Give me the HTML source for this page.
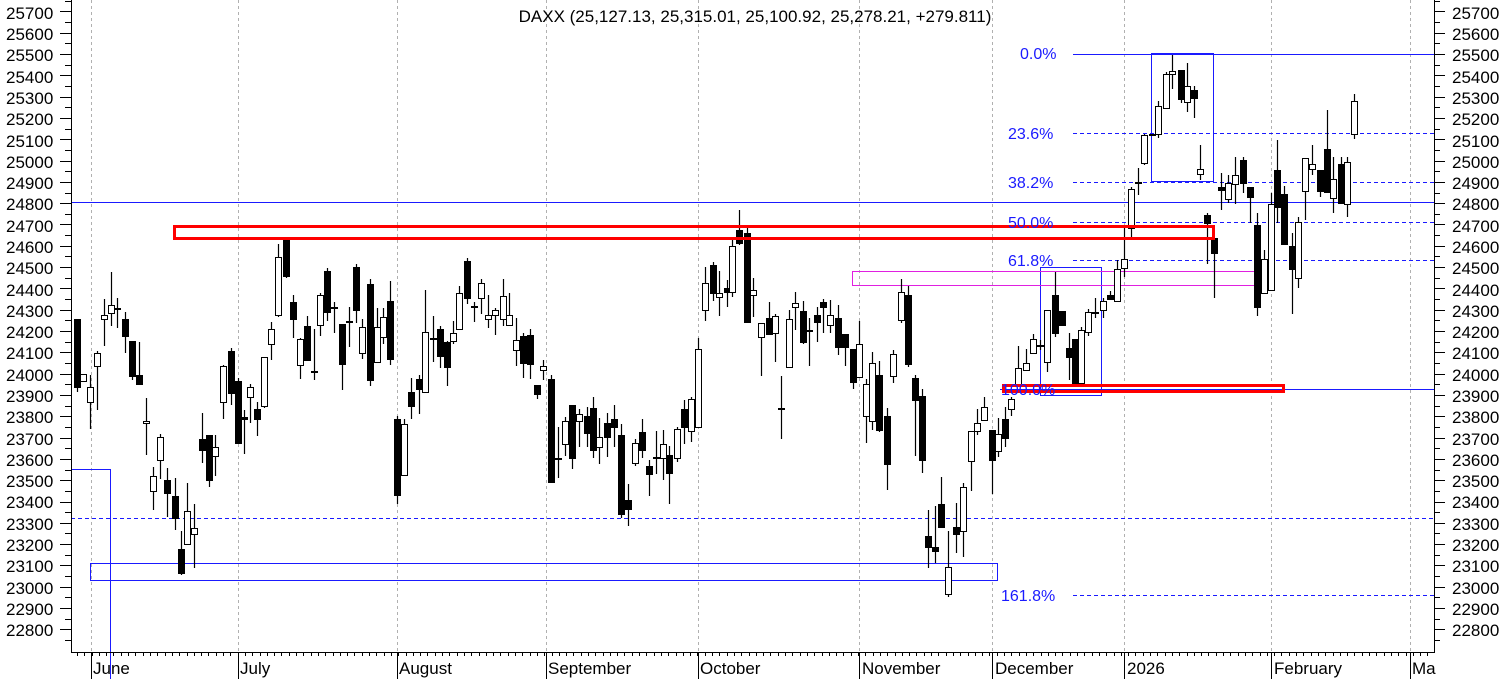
<!DOCTYPE html>
<html><head><meta charset="utf-8"><style>
body{margin:0;background:#fff;}
svg{display:block;font-family:"Liberation Sans",sans-serif;}
.ax{font-size:17px;fill:#000;}
.fb{font-size:16px;fill:#1a1aff;}
</style></head><body>
<svg id="s" width="1506" height="679" viewBox="0 0 1506 679" xmlns="http://www.w3.org/2000/svg">
<rect width="1506" height="679" fill="#fff"/>
<g id="grid" stroke="#b0b0b0" stroke-dasharray="3,3" stroke-width="1">
<line x1="91.5" y1="0" x2="91.5" y2="652"/><line x1="238.5" y1="0" x2="238.5" y2="652"/>
<line x1="397.5" y1="0" x2="397.5" y2="652"/><line x1="546.5" y1="0" x2="546.5" y2="652"/>
<line x1="698.5" y1="0" x2="698.5" y2="652"/><line x1="859.5" y1="0" x2="859.5" y2="652"/>
<line x1="992.5" y1="0" x2="992.5" y2="652"/><line x1="1124.5" y1="0" x2="1124.5" y2="652"/>
<line x1="1271.5" y1="0" x2="1271.5" y2="652"/><line x1="1410.5" y1="0" x2="1410.5" y2="652"/>
</g>
<g stroke="#1a1aff" stroke-width="1" fill="none">
<line x1="71" y1="202.5" x2="1434" y2="202.5"/>
<line x1="1073" y1="54.5" x2="1434" y2="54.5"/>
<line x1="1000" y1="389.5" x2="1434" y2="389.5"/>
<g stroke-dasharray="4,3">
<line x1="1073" y1="133.5" x2="1434" y2="133.5"/>
<line x1="1073" y1="182.5" x2="1434" y2="182.5"/>
<line x1="1073" y1="222.5" x2="1434" y2="222.5"/>
<line x1="1073" y1="260.5" x2="1434" y2="260.5"/>
<line x1="71" y1="518.5" x2="1434" y2="518.5"/>
<line x1="1073" y1="595.5" x2="1434" y2="595.5"/>
</g>
<polyline points="71,469.5 110.5,469.5 110.5,679"/>
<rect x="90.5" y="563.5" width="907" height="17"/>
<rect x="1151.5" y="53.5" width="62" height="128"/>
<rect x="1040.5" y="267.5" width="61" height="128"/>
</g>
<rect x="852.5" y="271.5" width="411" height="14" fill="none" stroke="#e020e0" stroke-width="1"/>
<g id="c"></g>
<rect x="174.5" y="226.5" width="1039" height="12" fill="none" stroke="#f00" stroke-width="3"/>
<rect x="1003.5" y="385.5" width="280" height="6" fill="none" stroke="#f00" stroke-width="3"/>
<g class="fb">
<text x="1020" y="59">0.0%</text><text x="1008" y="139">23.6%</text>
<text x="1008" y="188">38.2%</text><text x="1008" y="228">50.0%</text>
<text x="1008" y="266">61.8%</text><text x="1001" y="395">100.0%</text>
<text x="1001" y="601">161.8%</text>
</g>
<text x="755" y="22" text-anchor="middle" class="ax">DAXX (25,127.13, 25,315.01, 25,100.92, 25,278.21, +279.811)</text>
<g stroke="#000" stroke-width="1">
<line x1="71.5" y1="0" x2="71.5" y2="653"/><line x1="1434.5" y1="0" x2="1434.5" y2="653"/>
<line x1="71" y1="652.5" x2="1435" y2="652.5"/>
</g>
<g id="t" stroke="#000" stroke-width="1"></g>
<g class="ax">
<text x="6" y="19">25700</text><text x="6" y="40">25600</text><text x="6" y="61">25500</text><text x="6" y="83">25400</text><text x="6" y="104">25300</text><text x="6" y="125">25200</text><text x="6" y="147">25100</text><text x="6" y="168">25000</text><text x="6" y="189">24900</text><text x="6" y="210">24800</text><text x="6" y="232">24700</text><text x="6" y="253">24600</text><text x="6" y="274">24500</text><text x="6" y="296">24400</text><text x="6" y="317">24300</text><text x="6" y="338">24200</text><text x="6" y="359">24100</text><text x="6" y="381">24000</text><text x="6" y="402">23900</text><text x="6" y="423">23800</text><text x="6" y="445">23700</text><text x="6" y="466">23600</text><text x="6" y="487">23500</text><text x="6" y="508">23400</text><text x="6" y="530">23300</text><text x="6" y="551">23200</text><text x="6" y="572">23100</text><text x="6" y="594">23000</text><text x="6" y="615">22900</text><text x="6" y="636">22800</text>
<text x="1452" y="19">25700</text><text x="1452" y="40">25600</text><text x="1452" y="61">25500</text><text x="1452" y="83">25400</text><text x="1452" y="104">25300</text><text x="1452" y="125">25200</text><text x="1452" y="147">25100</text><text x="1452" y="168">25000</text><text x="1452" y="189">24900</text><text x="1452" y="210">24800</text><text x="1452" y="232">24700</text><text x="1452" y="253">24600</text><text x="1452" y="274">24500</text><text x="1452" y="296">24400</text><text x="1452" y="317">24300</text><text x="1452" y="338">24200</text><text x="1452" y="359">24100</text><text x="1452" y="381">24000</text><text x="1452" y="402">23900</text><text x="1452" y="423">23800</text><text x="1452" y="445">23700</text><text x="1452" y="466">23600</text><text x="1452" y="487">23500</text><text x="1452" y="508">23400</text><text x="1452" y="530">23300</text><text x="1452" y="551">23200</text><text x="1452" y="572">23100</text><text x="1452" y="594">23000</text><text x="1452" y="615">22900</text><text x="1452" y="636">22800</text>
<text x="93" y="674">June</text><text x="240" y="674">July</text><text x="399" y="674">August</text><text x="548" y="674">September</text><text x="700" y="674">October</text><text x="862" y="674">November</text><text x="995" y="674">December</text><text x="1127" y="674">2026</text><text x="1274" y="674">February</text><text x="1412" y="674">Ma</text>
</g>
</svg>
<script>
var C=[[77,319,319,387,392,1],[83,374,374,381,381,0],[90,375,387,402,429,0],[97,351,353,366,410,0],[104,299,315,319,346,0],[111,272,305,313,326,0],[117,298,308,309,328,0],[125,312,319,336,353,1],[132,341,341,376,380,1],[139,342,375,384,384,1],[146,398,421,423,455,0],[153,467,476,491,510,0],[160,434,437,460,479,0],[167,468,480,493,517,1],[175,478,496,518,530,1],[181,531,549,573,575,1],[187,483,511,544,544,0],[194,504,528,534,568,0],[202,413,439,450,463,1],[209,435,435,480,487,1],[215,435,447,456,476,0],[223,365,366,402,419,0],[231,348,351,393,405,1],[238,378,381,443,443,1],[244,410,417,419,454,1],[250,384,387,397,423,0],[257,402,409,419,436,1],[264,357,357,406,408,0],[271,322,329,344,360,0],[278,244,257,315,317,0],[286,238,239,276,278,1],[293,295,302,319,338,1],[300,338,339,365,379,0],[307,316,326,360,360,1],[314,329,371,371,380,1],[320,293,295,325,336,0],[327,268,271,312,321,1],[334,302,307,307,333,1],[342,324,324,364,390,1],[349,307,321,321,347,1],[356,264,267,310,323,1],[362,319,327,353,359,0],[370,279,284,380,386,1],[377,308,327,362,362,0],[383,308,317,337,344,0],[390,281,301,359,365,1],[397,416,419,495,504,1],[404,419,424,475,475,0],[411,378,392,406,419,1],[419,375,379,389,414,1],[425,290,332,392,393,0],[433,316,338,338,362,1],[440,326,329,356,368,1],[447,341,342,367,386,1],[453,321,333,341,344,0],[459,286,293,329,329,0],[467,258,261,298,304,1],[474,302,306,306,322,1],[481,279,283,298,314,0],[488,295,315,319,328,0],[495,308,310,315,335,0],[503,279,296,319,326,0],[509,293,315,325,325,0],[516,318,340,350,366,0],[523,333,336,363,378,1],[530,329,335,364,379,1],[537,385,385,394,399,1],[543,360,366,370,380,0],[551,375,379,482,482,1],[558,427,458,458,478,1],[565,417,421,444,456,0],[572,405,405,458,469,1],[579,409,414,421,447,0],[587,407,416,433,447,1],[593,397,408,450,458,1],[599,418,437,447,464,0],[607,413,423,437,457,1],[614,405,419,427,447,1],[621,424,435,514,518,1],[628,484,500,509,526,1],[635,439,443,463,466,0],[642,419,432,450,458,1],[649,460,466,474,496,1],[656,431,457,457,474,1],[663,430,444,458,480,0],[669,446,455,473,504,1],[677,427,429,458,462,0],[684,400,409,427,444,1],[691,397,399,431,442,0],[698,338,349,427,427,0],[705,267,283,310,321,0],[713,262,265,293,301,1],[719,271,293,297,316,0],[727,280,288,292,307,1],[732,240,246,292,297,0],[739,210,230,243,245,1],[747,228,233,322,322,1],[753,278,290,295,317,0],[761,323,323,337,376,0],[769,302,318,334,334,1],[775,314,316,333,362,0],[781,376,408,408,439,1],[789,310,319,367,368,0],[795,292,303,307,330,0],[803,301,311,342,344,1],[809,318,330,330,366,1],[817,307,315,322,342,1],[823,299,302,307,333,1],[830,300,315,325,333,0],[838,305,318,347,355,1],[845,334,334,347,366,1],[853,349,349,382,389,1],[859,321,344,377,377,0],[866,379,384,416,443,0],[872,352,363,421,430,0],[879,361,375,430,432,1],[887,408,416,464,490,1],[893,350,354,376,383,0],[901,279,292,320,323,0],[908,286,295,364,367,1],[915,375,378,400,456,1],[922,389,396,460,473,1],[928,510,536,547,568,1],[935,506,547,551,563,1],[941,477,504,527,527,1],[948,531,567,594,597,0],[956,503,527,534,553,1],[963,483,487,531,557,0],[971,431,431,461,491,0],[977,409,423,431,435,0],[984,397,407,420,420,0],[992,430,430,460,494,1],[998,418,434,451,457,0],[1005,407,419,438,447,1],[1011,397,399,409,416,0],[1018,346,368,384,384,0],[1026,349,363,370,370,0],[1033,334,339,353,353,0],[1040,340,345,345,350,1],[1047,310,310,362,372,0],[1055,272,295,333,337,1],[1062,311,311,325,325,1],[1069,333,348,357,380,1],[1075,339,339,383,383,1],[1081,327,330,383,385,0],[1088,309,312,332,336,0],[1095,298,312,312,318,1],[1103,298,301,310,318,0],[1110,291,295,299,299,1],[1117,260,269,301,301,0],[1124,227,259,268,277,0],[1131,187,189,228,237,0],[1138,168,182,182,195,1],[1144,134,135,163,165,0],[1152,134,134,134,134,1],[1158,101,106,134,138,0],[1166,72,74,108,108,0],[1172,55,71,74,89,0],[1181,70,70,99,103,1],[1187,63,86,102,112,0],[1194,86,90,98,118,1],[1200,145,169,174,180,0],[1207,213,215,223,264,1],[1214,240,238,253,298,1],[1221,173,187,190,210,1],[1228,175,183,199,203,0],[1235,157,175,184,204,0],[1243,157,160,183,193,1],[1250,187,187,197,223,1],[1257,213,225,307,316,1],[1264,250,259,293,293,0],[1271,193,204,290,290,0],[1277,140,170,207,223,1],[1284,186,194,244,244,1],[1292,233,246,269,314,1],[1298,217,222,278,288,0],[1305,158,158,191,220,0],[1312,145,164,169,175,0],[1320,170,170,191,197,1],[1327,110,149,192,192,1],[1333,157,179,198,213,0],[1341,157,164,203,203,1],[1347,157,162,204,217,0],[1354,94,101,134,139,0]];
var g=document.getElementById('c'),h='';
C.forEach(function(c){var x=c[0]+.5;h+='<line x1="'+x+'" y1="'+c[1]+'" x2="'+x+'" y2="'+c[4]+'" stroke="#000" stroke-width="1.2"/>';var bh=Math.max(1,c[3]-c[2]);
h+='<rect x="'+(c[0]-2.5)+'" y="'+(c[2]+.5)+'" width="6" height="'+bh+'" fill="'+(c[5]?'#000':'#fff')+'" stroke="#000" stroke-width="1"/>';});
g.innerHTML=h;
var t='';for(var v=22750;v<=25750;v+=50){var y=Math.round(54+(25500-v)*0.2131)+.5;if(y<0||y>652)continue;var L=(v%100==0)?11:6;
t+='<line x1="'+(71-L)+'" y1="'+y+'" x2="71" y2="'+y+'"/><line x1="1434" y1="'+y+'" x2="'+(1434+L)+'" y2="'+y+'"/>';}
for(var x=77;x<1434;x+=7.3){var xx=Math.round(x)+.5;t+='<line x1="'+xx+'" y1="652" x2="'+xx+'" y2="656"/>';}
[91,238,397,546,698,859,992,1124,1271,1410].forEach(function(x){t+='<line x1="'+(x+.5)+'" y1="652" x2="'+(x+.5)+'" y2="679"/>';});
document.getElementById('t').innerHTML=t;
</script>
</body></html>
